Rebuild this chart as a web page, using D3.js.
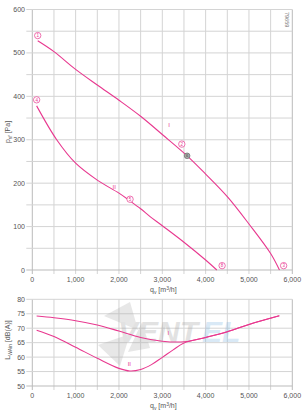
<!DOCTYPE html>
<html><head><meta charset="utf-8">
<script src="https://cdn.jsdelivr.net/npm/d3@7"></script>
<style>
html,body{margin:0;padding:0;background:#fff;}
text{font-family:"Liberation Sans",Arial,sans-serif;}
</style></head>
<body>
<svg id="c" width="303" height="414"></svg>
<script>
// ---- data ----
const xTicks = [0, 1000, 2000, 3000, 4000, 5000, 6000];
const pTicks = [0, 100, 200, 300, 400, 500, 600];
const lTicks = [50, 55, 60, 65, 70, 75, 80];

const qPressI = [125, 500, 1000, 1500, 2000, 2500, 3000, 3573, 4000, 4500, 5000, 5500, 5704];
const pPressI = [528, 503, 462, 426, 391, 354, 312, 263, 221, 169, 106, 38, 0];
const qPressII = [100, 563, 1000, 1500, 2000, 2256, 2500, 2718, 3000, 3500, 4000, 4258];
const pPressII = [378, 300, 246, 207, 177, 159, 141, 123, 102, 64, 23, 0];

const qSoundI = [100, 500, 1000, 1500, 2000, 2500, 3000, 3500, 4000, 4500, 5000, 5700];
const lSoundI = [74.2, 73.6, 72.6, 71.1, 69.0, 66.8, 65.5, 65.3, 66.8, 68.8, 71.3, 74.3];
const qSoundII = [100, 500, 1000, 1500, 2000, 2250, 2500, 2750, 3000, 3250, 3500, 4000, 4500, 5000, 5700];
const lSoundII = [69.3, 67.1, 63.4, 59.6, 56.1, 55.2, 55.7, 57.4, 59.9, 62.5, 64.9, 66.8, 68.8, 71.3, 74.3];

// markers: [q, p, label]
const markQ = [125, 3450, 5800, 100, 2256, 4380];
const markP = [540, 290, 10, 392, 163, 10];
const markLbl = ["1", "2", "3", "4", "5", "8"];
const opPoint = [3573, 263];

const pink = "#e8388f";
const svg = d3.select("#c");

const x = d3.scaleLinear().domain([0, 6000]).range([32.3, 292.3]);
const yP = d3.scaleLinear().domain([0, 600]).range([270, 9.5]);
const yL = d3.scaleLinear().domain([50, 80]).range([386, 299.3]);

function grid(y, yStep, yMin, yMax) {
  const g = svg.append("g");
  for (let v = 0; v <= 6000; v += 500) {
    g.append("line").attr("x1", x(v)).attr("x2", x(v)).attr("y1", y(yMax)).attr("y2", y(yMin) + 4)
      .attr("stroke", v === 0 || v === 6000 ? "#bbb" : "#d4d4d4").attr("stroke-width", 1);
  }
  for (let v = yMin; v <= yMax + 1e-9; v += yStep) {
    g.append("line").attr("x1", x(0) - 6).attr("x2", x(6000)).attr("y1", y(v)).attr("y2", y(v))
      .attr("stroke", v === yMin ? "#bbb" : "#d4d4d4").attr("stroke-width", 1);
  }
}
grid(yP, 50, 0, 600);
grid(yL, 5, 50, 80);

// watermark
const wm = svg.append("g").attr("opacity", 0.28);
wm.append("path").attr("d", "M104,316 L130,302 L138,330 Z M98,345 L130,334 L120,366 Z M142,322 L150,348 L128,352 Z").attr("fill", "#aaa");
wm.append("text").attr("x", 118).attr("y", 342).attr("font-size", 30).attr("font-weight", "bold")
  .attr("font-style", "italic").attr("fill", "#999").text("VENT");
wm.append("text").attr("x", 202).attr("y", 342).attr("font-size", 30).attr("font-weight", "bold")
  .attr("font-style", "italic").attr("fill", "#7ab4e0").text("EL");

// axes text
function axisLabels(y, ticks, fmtY, tickY) {
  ticks.forEach(v => {
    svg.append("text").attr("x", 25).attr("y", y(v) + 2.5).attr("text-anchor", "end")
      .attr("font-size", 7).attr("fill", "#555").text(fmtY(v));
  });
  xTicks.forEach(v => {
    svg.append("text").attr("x", x(v)).attr("y", tickY).attr("text-anchor", "middle")
      .attr("font-size", 7).attr("fill", "#555").text(d3.format(",")(v));
  });
}
axisLabels(yP, pTicks, d => d, 281.5);
axisLabels(yL, lTicks, d => d, 398);

function qLabel(yy) {
  const t = svg.append("text").attr("x", 150).attr("y", yy).attr("font-size", 7).attr("fill", "#555");
  t.append("tspan").text("q");
  t.append("tspan").attr("font-size", 5).attr("dy", 1.5).text("v");
  t.append("tspan").attr("dy", -1.5).text(" [m");
  t.append("tspan").attr("font-size", 5).attr("dy", -2.5).text("3");
  t.append("tspan").attr("dy", 2.5).text("/h]");
}
qLabel(292);
qLabel(408);

function yLabel(cx, cy, main, sub, rest) {
  const t = svg.append("text").attr("transform", `translate(${cx},${cy}) rotate(-90)`)
    .attr("text-anchor", "middle").attr("font-size", 7).attr("fill", "#555");
  t.append("tspan").text(main);
  t.append("tspan").attr("font-size", 5).attr("dy", 1.5).text(sub);
  t.append("tspan").attr("dy", -1.5).text(rest);
}
yLabel(10, 132, "p", "sf", " [Pa]");
yLabel(10, 340, "L", "WAin", " [dB(A)]");

svg.append("text").attr("transform", "translate(285,12) rotate(90)").attr("font-size", 5.5)
  .attr("fill", "#777").text("79659");

// curves
const line = (ys) => d3.line().x(d => x(d[0])).y(d => ys(d[1])).curve(d3.curveCatmullRom.alpha(0.5));
function drawCurve(qs, vs, ys) {
  svg.append("path").datum(qs.map((q, i) => [q, vs[i]])).attr("d", line(ys))
    .attr("fill", "none").attr("stroke", pink).attr("stroke-width", 1.1);
}
drawCurve(qPressI, pPressI, yP);
drawCurve(qPressII, pPressII, yP);
drawCurve(qSoundI, lSoundI, yL);
drawCurve(qSoundII, lSoundII, yL);

// markers
markQ.forEach((q, i) => {
  const g = svg.append("g").attr("transform", `translate(${x(q)},${yP(markP[i])})`);
  g.append("circle").attr("r", 3.2).attr("fill", "#fff").attr("stroke", pink).attr("stroke-width", 0.7);
  g.append("text").attr("y", 1.7).attr("text-anchor", "middle").attr("font-size", 4.5).attr("fill", pink).text(markLbl[i]);
});
svg.append("circle").attr("cx", x(opPoint[0])).attr("cy", yP(opPoint[1])).attr("r", 2.8)
  .attr("fill", "#aaa").attr("stroke", "#666").attr("stroke-width", 0.7);
svg.append("text").attr("x", x(opPoint[0])).attr("y", yP(opPoint[1]) + 1.6).attr("text-anchor", "middle")
  .attr("font-size", 4).attr("fill", "#444").text("6");

// curve labels
function cLabel(q, v, ys, s) {
  svg.append("text").attr("x", x(q)).attr("y", ys(v)).attr("text-anchor", "middle")
    .attr("font-size", 6).attr("fill", pink).text(s);
}
cLabel(3155, 330, yP, "I");
cLabel(1890, 186, yP, "II");
cLabel(3140, 67.5, yL, "I");
cLabel(2240, 57.0, yL, "II");
</script>
</body></html>
